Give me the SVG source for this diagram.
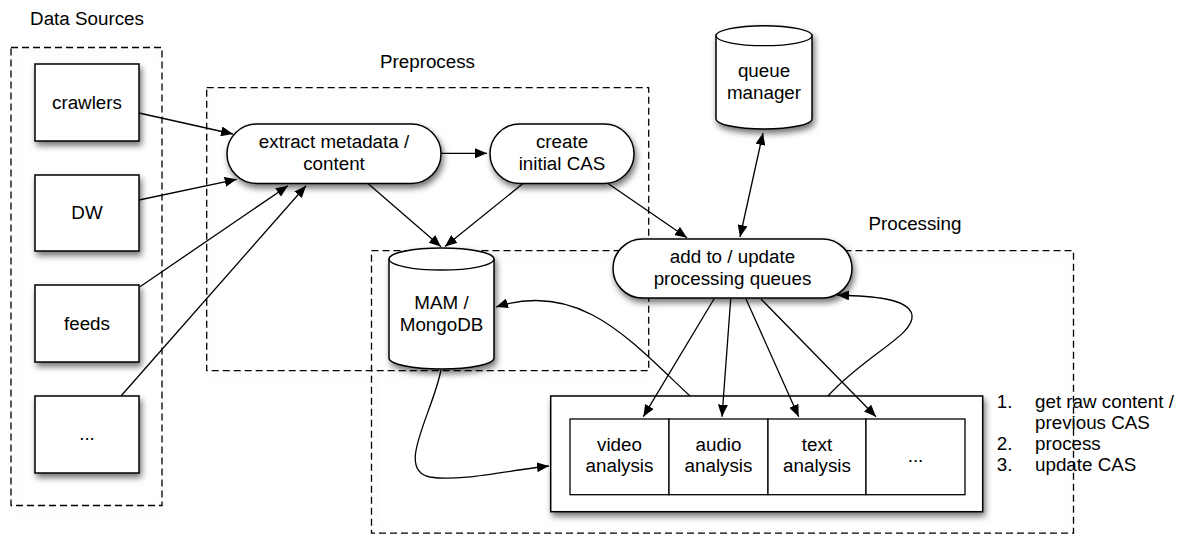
<svg xmlns="http://www.w3.org/2000/svg" width="1181" height="535" viewBox="0 0 1181 535">
<style>
text { font-family: "Liberation Sans", Arial, Helvetica, sans-serif; font-size: 18.8px; fill: #000; }
.c { text-anchor: middle; }
.frame { fill: none; stroke: #000; stroke-width: 1.3; stroke-dasharray: 7 4; }
.node { fill: #fff; stroke: #000; stroke-width: 1.5; }
.cell { fill: #fff; stroke: #000; stroke-width: 1.3; }
.edge { fill: none; stroke: #000; stroke-width: 1.3; }
.arr { marker-end: url(#ah); }
.both { marker-start: url(#ahs); marker-end: url(#ah); }
</style>
<defs>
<filter id="sh" x="-20%" y="-20%" width="150%" height="160%">
<feDropShadow dx="2" dy="4" stdDeviation="3" flood-color="#000" flood-opacity="0.55"/>
</filter>
<filter id="fsh" x="-5%" y="-5%" width="112%" height="112%">
<feDropShadow dx="2" dy="3" stdDeviation="4" flood-color="#000" flood-opacity="0.12"/>
</filter>
<marker id="ah" viewBox="0 0 12 10" refX="12" refY="5" markerWidth="12" markerHeight="10" markerUnits="userSpaceOnUse" orient="auto">
<path d="M0,0 L12,5 L0,10 z" fill="#000"/>
</marker>
<marker id="ahs" viewBox="0 0 12 10" refX="12" refY="5" markerWidth="12" markerHeight="10" markerUnits="userSpaceOnUse" orient="auto-start-reverse">
<path d="M0,0 L12,5 L0,10 z" fill="#000"/>
</marker>
</defs>
<rect width="1181" height="535" fill="#fff"/>

<g id="frame-data-sources">
<rect class="frame" x="11" y="47.5" width="151" height="458" filter="url(#fsh)"/>
<text class="c" x="87" y="24.5">Data Sources</text>
</g>
<g id="frame-preprocess">
<rect class="frame" x="206.7" y="87.7" width="442" height="283" filter="url(#fsh)"/>
<text class="c" x="427.5" y="68">Preprocess</text>
</g>
<g id="frame-processing">
<rect class="frame" x="371.5" y="250.7" width="702" height="282.5" filter="url(#fsh)"/>
<text class="c" x="915" y="230">Processing</text>
</g>

<g id="node-crawlers">
<rect class="node" x="35" y="64" width="104" height="77" filter="url(#sh)"/>
<text class="c" x="87" y="108.5">crawlers</text>
</g>
<g id="node-dw">
<rect class="node" x="35" y="175" width="104" height="76" filter="url(#sh)"/>
<text class="c" x="87" y="218.5">DW</text>
</g>
<g id="node-feeds">
<rect class="node" x="35" y="285" width="104" height="77" filter="url(#sh)"/>
<text class="c" x="87" y="329.5">feeds</text>
</g>
<g id="node-more-sources">
<rect class="node" x="35" y="396" width="104" height="77" filter="url(#sh)"/>
<text class="c" x="87" y="440">...</text>
</g>

<g id="node-extract">
<rect class="node" x="227" y="124" width="214" height="59.5" rx="29.7" filter="url(#sh)"/>
<text class="c" x="334" y="148.3">extract metadata /</text>
<text class="c" x="334" y="170">content</text>
</g>
<g id="node-create-cas">
<rect class="node" x="490" y="124" width="144" height="59.5" rx="29.7" filter="url(#sh)"/>
<text class="c" x="562" y="148.3">create</text>
<text class="c" x="562" y="170">initial CAS</text>
</g>

<g id="node-mam">
<path class="node" d="M389,259 A52.5,11 0 0 1 494,259 L494,358 A52.5,11 0 0 1 389,358 Z" filter="url(#sh)"/>
<path class="edge" d="M389,259 A52.5,11 0 0 0 494,259"/>
<text class="c" x="441.5" y="309.3">MAM /</text>
<text class="c" x="441.5" y="331">MongoDB</text>
</g>

<g id="node-queue-manager">
<path class="node" d="M716,35.7 A48,10 0 0 1 812,35.7 L812,119 A48,10 0 0 1 716,119 Z" filter="url(#sh)"/>
<path class="edge" d="M716,35.7 A48,10 0 0 0 812,35.7"/>
<text class="c" x="764" y="77">queue</text>
<text class="c" x="764" y="99.3">manager</text>
</g>

<g id="node-add-queues">
<rect class="node" x="613" y="239" width="239" height="59" rx="29.5" filter="url(#sh)"/>
<text class="c" x="732.5" y="263.3">add to / update</text>
<text class="c" x="732.5" y="284.5">processing queues</text>
</g>

<g id="node-analysis">
<rect class="node" x="550.7" y="396" width="432" height="115.7" filter="url(#sh)"/>
<rect class="cell" x="570" y="419" width="99" height="75.7"/>
<rect class="cell" x="669" y="419" width="99" height="75.7"/>
<rect class="cell" x="768" y="419" width="98" height="75.7"/>
<rect class="cell" x="866" y="419" width="99" height="75.7"/>
<text class="c" x="619.5" y="450.7">video</text>
<text class="c" x="619.5" y="472.3">analysis</text>
<text class="c" x="718.5" y="450.7">audio</text>
<text class="c" x="718.5" y="472.3">analysis</text>
<text class="c" x="817" y="450.7">text</text>
<text class="c" x="817" y="472.3">analysis</text>
<text class="c" x="915.5" y="461.7">...</text>
</g>

<g id="steps-list">
<text x="996.7" y="407.7">1.</text>
<text x="1035" y="407.7">get raw content /</text>
<text x="1035" y="429.3">previous CAS</text>
<text x="996.7" y="450">2.</text>
<text x="1035" y="450">process</text>
<text x="996.7" y="470.7">3.</text>
<text x="1035" y="470.7">update CAS</text>
</g>

<g id="connectors">
<line class="edge arr" x1="139" y1="113" x2="233" y2="134"/>
<line class="edge arr" x1="139" y1="200" x2="236.7" y2="179.3"/>
<line class="edge arr" x1="140" y1="286.7" x2="288" y2="185.7"/>
<line class="edge arr" x1="121" y1="396" x2="306" y2="185.7"/>
<line class="edge arr" x1="441" y1="153.3" x2="487" y2="153.3"/>
<line class="edge arr" x1="368" y1="183.5" x2="441" y2="246.7"/>
<line class="edge arr" x1="523" y1="183.5" x2="445" y2="246.5"/>
<line class="edge arr" x1="607.7" y1="183.3" x2="687" y2="237.7"/>
<line class="edge both" x1="740" y1="237" x2="763" y2="133"/>
<line class="edge arr" x1="714" y1="299" x2="643.3" y2="416.7"/>
<line class="edge arr" x1="730.7" y1="299" x2="722" y2="416.7"/>
<line class="edge arr" x1="746" y1="299" x2="798.7" y2="416.7"/>
<line class="edge arr" x1="761" y1="299" x2="876" y2="416.7"/>
<path class="edge arr" d="M690,396 C630,340 580,280 496,307"/>
<path class="edge arr" d="M828,396 C865,355 915,335 912,315 C909,298 870,296 837,295"/>
<path class="edge arr" d="M441,370 C432,415 395,470 430,477 C460,482 510,470 549,466"/>
</g>
</svg>
